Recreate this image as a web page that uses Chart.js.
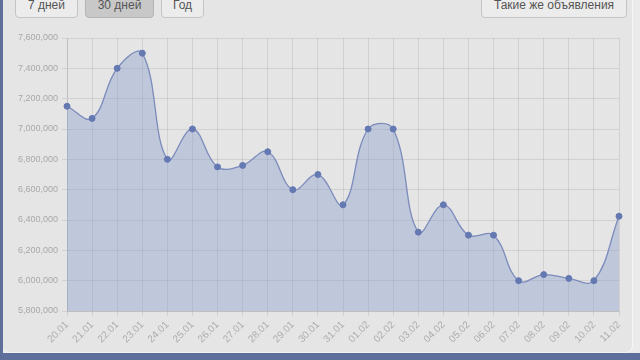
<!DOCTYPE html>
<html lang="ru">
<head>
    <meta charset="UTF-8">
    <script src="https://cdn.jsdelivr.net/npm/chart.js"></script>
    <title>История цены</title>
    <style>
        html, body {
            margin: 0;
            padding: 0;
            width: 640px;
            height: 360px;
            overflow: hidden;
            background: #ebebeb;
            font-family: "Liberation Sans", Arial, sans-serif;
        }
        #left-strip {
            position: absolute; left: 0; top: 0; width: 3px; height: 360px;
            background: #5d6f9a;
        }
        #bottom-strip {
            position: absolute; left: 0; top: 353px; width: 640px; height: 7px;
            background: #5d6f9a;
        }
        #panel {
            position: absolute; left: 3px; top: -10px; width: 629px; height: 362px;
            background: #e5e5e5;
            border-right: 1px solid #f6f6f6;
            border-bottom: 1px solid #f2f2f2;
            border-radius: 0 0 7px 7px;
        }
        .btn {
            position: absolute;
            top: -12px;
            height: 30px;
            box-sizing: border-box;
            border: 1px solid #c4c4c4;
            border-radius: 4px;
            background: #ececec;
            color: #555;
            font-size: 12px;
            line-height: 14px;
            padding-top: 9px;
            text-align: center;
        }
        .btn.active {
            background: #c8c8c8;
            border-color: #b4b4b4;
        }
        #wrap {
            position: absolute; left: 0; top: 0; width: 640px; height: 360px;
        }
    </style>
</head>
<body>
    <div id="left-strip"></div>
    <div id="bottom-strip"></div>
    <div id="panel"></div>
    <div class="btn" style="left:15px; width:63px;">7 дней</div>
    <div class="btn active" style="left:85px; width:69px;">30 дней</div>
    <div class="btn" style="left:161px; width:43px;">Год</div>
    <div class="btn" style="left:481px; width:146px;">Такие же объявления</div>
    <div id="wrap"><canvas id="price-chart"></canvas></div>

    <script>
        // даты и цены за 30 дней
        const days = ['20.01', '21.01', '22.01', '23.01', '24.01', '25.01', '26.01', '27.01',
            '28.01', '29.01', '30.01', '31.01', '01.02', '02.02', '03.02', '04.02',
            '05.02', '06.02', '07.02', '08.02', '09.02', '10.02', '11.02'];
        const prices = [7150000, 7070000, 7400000, 7500000, 6800000, 7000000, 6750000, 6760000,
            6850000, 6600000, 6700000, 6500000, 7000000, 7000000, 6320000, 6500000,
            6300000, 6300000, 6000000, 6040000, 6015000, 6000000, 6425000];
        const yMin = 5800000;
        const yMax = 7600000;
        const yStep = 200000;

        const gridColor = 'rgba(0, 0, 0, 0.085)';

        new Chart(document.getElementById('price-chart'), {
            type: 'line',
            data: {
                labels: days,
                datasets: [{
                    data: prices,
                    borderColor: '#7b8bbb',
                    borderWidth: 1.3,
                    backgroundColor: 'rgba(130, 150, 200, 0.38)',
                    fill: 'start',
                    tension: 0.4,
                    pointRadius: 3,
                    pointBackgroundColor: '#6478b2',
                    pointBorderColor: '#6478b2',
                    pointBorderWidth: 1
                }]
            },
            options: {
                responsive: true,
                maintainAspectRatio: false,
                animation: false,
                layout: { padding: { left: 0, top: 38, right: 21, bottom: 0 } },
                plugins: {
                    legend: { display: false },
                    tooltip: { enabled: false }
                },
                scales: {
                    x: {
                        grid: { color: gridColor, tickLength: 5 },
                        border: { color: gridColor },
                        ticks: {
                            color: '#adadad',
                            font: { family: '"Liberation Sans", Arial, sans-serif', size: 10 },
                            autoSkip: false,
                            minRotation: 45,
                            maxRotation: 45,
                            padding: 3
                        },
                        afterFit: (scale) => { scale.height = 49; }
                    },
                    y: {
                        min: yMin,
                        max: yMax,
                        grid: { color: gridColor, tickLength: 5 },
                        border: { color: gridColor },
                        ticks: {
                            stepSize: yStep,
                            color: '#a8a8a8',
                            font: { family: '"Liberation Sans", Arial, sans-serif', size: 9 },
                            padding: 4,
                            callback: (v) => v.toLocaleString('en-US')
                        },
                        afterFit: (scale) => { scale.width = 67; }
                    }
                }
            }
        });
    </script>
</body>
</html>
